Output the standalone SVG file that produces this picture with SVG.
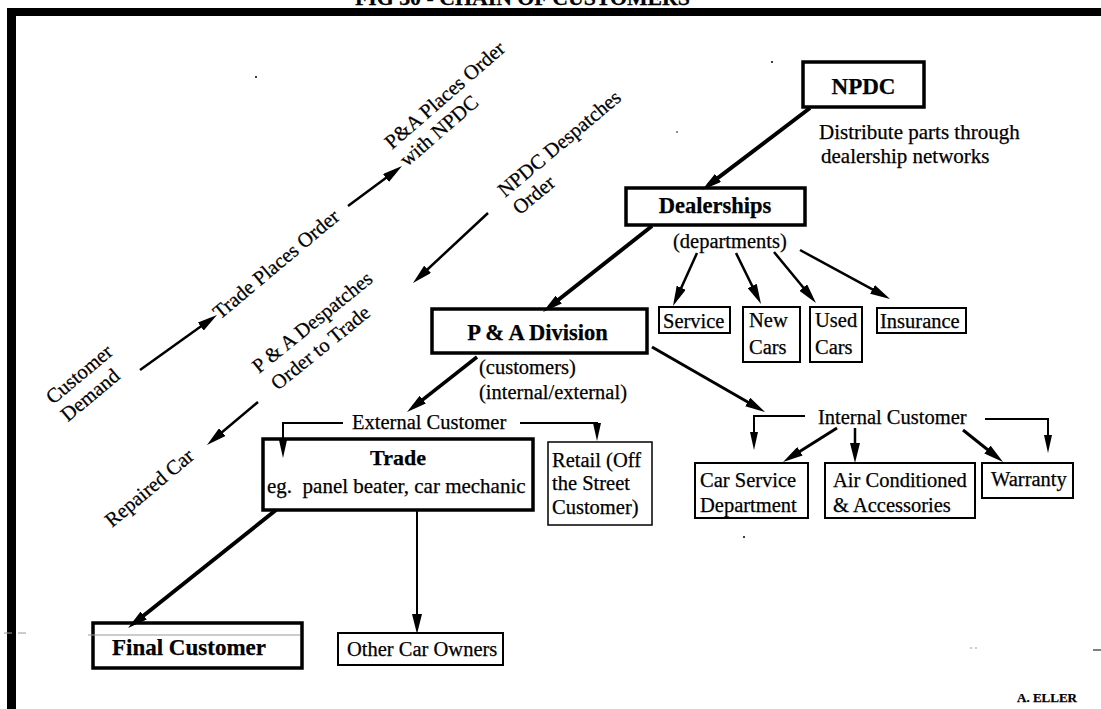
<svg xmlns="http://www.w3.org/2000/svg" width="1101" height="709" viewBox="0 0 1101 709">
  <style>
    .t{font-family:"Liberation Serif","Times New Roman",serif;font-size:20.5px;fill:#000;stroke:#000;stroke-width:0.25}
    .b{font-weight:bold}
    .s13{font-size:13px}
    .s20{font-size:20px}
    .s21{font-size:21px}
    .s22{font-size:22px}
    .s225{font-size:22.5px}
    .s23{font-size:23px}
    .mid{text-anchor:middle}
    .box{fill:#fff;stroke:#000}
    .w35{stroke-width:3.5}
    .w2{stroke-width:2}
    .w15{stroke-width:1.5}
    .c{fill:none;stroke:#000;stroke-linecap:butt}
    .speck{fill:#000}
    .faint{stroke:#999;stroke-width:1;fill:none}
  </style>
  <defs>
    <marker id="ah" markerUnits="userSpaceOnUse" markerWidth="20" markerHeight="10" refX="12" refY="5" orient="auto">
      <path d="M0,0 L20,5 L0,10 z" fill="#000"/>
    </marker>
    <marker id="ahs" markerUnits="userSpaceOnUse" markerWidth="18" markerHeight="8" refX="10" refY="4" orient="auto">
      <path d="M0,0 L18,4 L0,8 z" fill="#000"/>
    </marker>
  </defs>

  <rect width="1101" height="709" fill="#fff"/>

  <!-- title (runs off the top edge) -->
  <text class="t b s20" x="355" y="5" textLength="335" lengthAdjust="spacingAndGlyphs">FIG 30 - CHAIN OF CUSTOMERS</text>

  <!-- page frame -->
  <g id="frame" fill="#000">
    <rect x="7" y="8" width="1094" height="8"/>
    <rect x="7" y="8" width="9" height="701"/>
  </g>

  <!-- order flow captions along the diagonal -->
  <g id="flow-labels" class="t">
    <text transform="translate(53,405) rotate(-40)"><tspan x="0" y="0">Customer</tspan><tspan x="0" y="23">Demand</tspan></text>
    <text transform="translate(220,320) rotate(-40)">Trade Places Order</text>
    <text transform="translate(392,150) rotate(-41)"><tspan x="0" y="0">P&amp;A Places Order</tspan><tspan x="0" y="23">with NPDC</tspan></text>
    <text transform="translate(505,198) rotate(-40)"><tspan x="0" y="0">NPDC Despatches</tspan><tspan x="0" y="23">Order</tspan></text>
    <text transform="translate(259,374) rotate(-39)"><tspan x="0" y="0">P &amp; A Despatches</tspan><tspan x="4" y="25">Order to Trade</tspan></text>
    <text transform="translate(112,528) rotate(-40)">Repaired Car</text>
  </g>

  <g id="npdc">
    <rect class="box w35" x="803" y="62" width="121" height="45"/>
    <text class="t b s23 mid" x="863.5" y="94">NPDC</text>
    <text class="t s21" x="819" y="139">Distribute parts through</text>
    <text class="t s21" x="821" y="163">dealership networks</text>
  </g>

  <g id="dealerships">
    <rect class="box w35" x="626" y="188" width="179" height="37"/>
    <text class="t b s225 mid" x="715" y="213">Dealerships</text>
    <text class="t" x="673" y="248">(departments)</text>
  </g>

  <g id="service">
    <rect class="box w2" x="659" y="307" width="71" height="26"/>
    <text class="t" x="663" y="328">Service</text>
  </g>
  <g id="new-cars">
    <rect class="box w2" x="743" y="307" width="57" height="55"/>
    <text class="t" x="749" y="327">New</text>
    <text class="t" x="749" y="354">Cars</text>
  </g>
  <g id="used-cars">
    <rect class="box w2" x="810" y="307" width="52" height="55"/>
    <text class="t" x="815" y="327">Used</text>
    <text class="t" x="815" y="354">Cars</text>
  </g>
  <g id="insurance">
    <rect class="box w2" x="877" y="308" width="89" height="25"/>
    <text class="t" x="880" y="328">Insurance</text>
  </g>

  <g id="pa-division">
    <rect class="box w35" x="432" y="309" width="215" height="44"/>
    <text class="t b s225 mid" x="537.5" y="340">P &amp; A Division</text>
    <text class="t" x="479" y="374">(customers)</text>
    <text class="t" x="479" y="399">(internal/external)</text>
  </g>

  <g id="external-customer">
    <text class="t" x="352" y="429">External Customer</text>
  </g>
  <g id="internal-customer">
    <text class="t" x="818" y="424">Internal Customer</text>
  </g>

  <g id="trade">
    <rect class="box w35" x="263" y="439" width="270" height="71"/>
    <text class="t b s22 mid" x="398" y="465">Trade</text>
    <text class="t s21" x="267" y="493" xml:space="preserve">eg.  panel beater, car mechanic</text>
  </g>

  <g id="retail">
    <rect class="box w15" x="548" y="442" width="104" height="83"/>
    <text class="t" x="552" y="467">Retail (Off</text>
    <text class="t" x="552" y="490">the Street</text>
    <text class="t" x="552" y="514">Customer)</text>
  </g>

  <g id="car-service-department">
    <rect class="box w2" x="695" y="463" width="113" height="55"/>
    <text class="t" x="700" y="487">Car Service</text>
    <text class="t" x="700" y="512">Department</text>
  </g>
  <g id="air-conditioned">
    <rect class="box w2" x="825" y="463" width="150" height="55"/>
    <text class="t" x="833" y="487">Air Conditioned</text>
    <text class="t" x="833" y="512">&amp; Accessories</text>
  </g>
  <g id="warranty">
    <rect class="box w2" x="982" y="463" width="91" height="35"/>
    <text class="t" x="991" y="486">Warranty</text>
  </g>

  <g id="final-customer">
    <rect class="box w35" x="93" y="623" width="209" height="45"/>
    <text class="t b s23" x="112" y="655">Final Customer</text>
  </g>
  <g id="other-car-owners">
    <rect class="box w2" x="338" y="633" width="165" height="32"/>
    <text class="t" x="347" y="656">Other Car Owners</text>
  </g>

  <!-- connectors -->
  <g id="connectors" class="c">
    <line x1="140" y1="370" x2="210.5" y2="319.6" stroke-width="2.5" marker-end="url(#ah)"/>
    <line x1="348" y1="206" x2="395.6" y2="170.8" stroke-width="2.5" marker-end="url(#ah)"/>
    <line x1="488" y1="213" x2="418.8" y2="277.5" stroke-width="2.5" marker-end="url(#ah)"/>
    <line x1="258" y1="402" x2="213.1" y2="439.8" stroke-width="2.5" marker-end="url(#ah)"/>

    <line x1="810" y1="108" x2="708.4" y2="185.2" stroke-width="4" marker-end="url(#ah)"/>
    <line x1="652" y1="226" x2="549.3" y2="307" stroke-width="4" marker-end="url(#ah)"/>

    <line x1="697" y1="253" x2="676.3" y2="298.7" stroke-width="2.5" marker-end="url(#ah)"/>
    <line x1="736" y1="253" x2="757.5" y2="296.8" stroke-width="2.5" marker-end="url(#ah)"/>
    <line x1="774" y1="252" x2="810.9" y2="296.8" stroke-width="2.5" marker-end="url(#ah)"/>
    <line x1="800" y1="250" x2="883" y2="295.2" stroke-width="2.5" marker-end="url(#ah)"/>

    <line x1="477" y1="357" x2="413.3" y2="407.1" stroke-width="3.5" marker-end="url(#ah)"/>
    <line x1="652" y1="347" x2="758.1" y2="408" stroke-width="3" marker-end="url(#ah)"/>

    <path d="M343,423 H283 V450" stroke-width="2" marker-end="url(#ahs)"/>
    <path d="M520,423 H597 V433" stroke-width="2" marker-end="url(#ahs)"/>

    <path d="M805,416 H754 V442" stroke-width="2" marker-end="url(#ahs)"/>
    <path d="M985,419 H1048 V445" stroke-width="2" marker-end="url(#ahs)"/>
    <line x1="837" y1="428" x2="789.8" y2="457.7" stroke-width="3" marker-end="url(#ah)"/>
    <line x1="855" y1="428" x2="855" y2="455" stroke-width="2.5" marker-end="url(#ah)"/>
    <line x1="963" y1="430" x2="996.8" y2="457" stroke-width="3" marker-end="url(#ah)"/>

    <line x1="276" y1="510" x2="134.3" y2="623" stroke-width="4" marker-end="url(#ah)"/>
    <line x1="417" y1="510" x2="417" y2="626" stroke-width="2" marker-end="url(#ah)"/>
  </g>

  <!-- signature -->
  <text class="t b s13" x="1017" y="702">A. ELLER</text>

  <!-- small marks on the sheet -->
  <g id="marks">
    <circle class="speck" cx="256" cy="77" r="1"/>
    <circle class="speck" cx="772" cy="62" r="1"/>
    <circle class="speck" cx="677" cy="132" r="0.8"/>
    <circle class="speck" cx="744" cy="537" r="1"/>
    <path class="faint" d="M4,633 H12 M18,633 H26 M88,635 H300 M970,648 H972 M975,648 H977"/>
    <path d="M1093,650 H1101" stroke="#000" stroke-width="1"/>
  </g>
</svg>
